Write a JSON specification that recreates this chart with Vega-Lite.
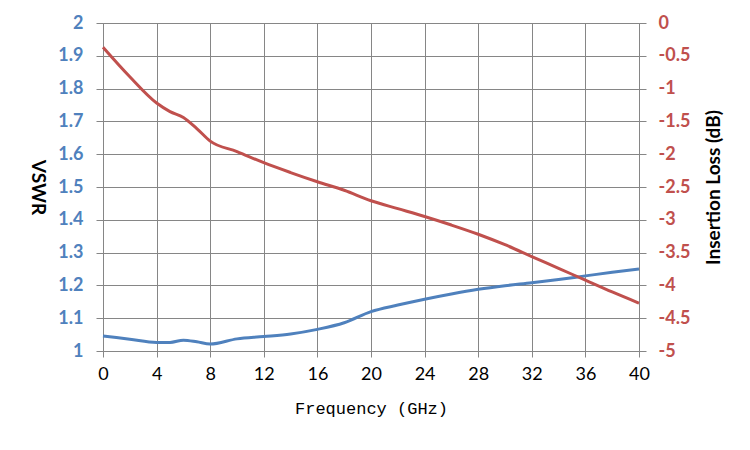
{
  "$schema": "https://vega.github.io/schema/vega-lite/v6.json",
  "autosize": "none",
  "width": 536,
  "height": 328,
  "padding": {"left": 103, "top": 23, "right": 111, "bottom": 99},
  "background": "white",
  "config": {
    "view": {"stroke": "#868686", "strokeWidth": 1}
  },
  "data": {
    "values": [
      {"freq": 0, "vswr": 1.046, "il": -0.37},
      {"freq": 2, "vswr": 1.036, "il": -0.82},
      {"freq": 4, "vswr": 1.026, "il": -1.22},
      {"freq": 5, "vswr": 1.026, "il": -1.35},
      {"freq": 6, "vswr": 1.033, "il": -1.44},
      {"freq": 7, "vswr": 1.028, "il": -1.61},
      {"freq": 8, "vswr": 1.021, "il": -1.8},
      {"freq": 10, "vswr": 1.037, "il": -1.96},
      {"freq": 12, "vswr": 1.044, "il": -2.13},
      {"freq": 14, "vswr": 1.052, "il": -2.28},
      {"freq": 16, "vswr": 1.066, "il": -2.42},
      {"freq": 18, "vswr": 1.086, "il": -2.55},
      {"freq": 20, "vswr": 1.12, "il": -2.71},
      {"freq": 22, "vswr": 1.14, "il": -2.83},
      {"freq": 24, "vswr": 1.158, "il": -2.95},
      {"freq": 26, "vswr": 1.174, "il": -3.08},
      {"freq": 28, "vswr": 1.188, "il": -3.22},
      {"freq": 30, "vswr": 1.199, "il": -3.38},
      {"freq": 32, "vswr": 1.208, "il": -3.56},
      {"freq": 34, "vswr": 1.218, "il": -3.74},
      {"freq": 36, "vswr": 1.229, "il": -3.92},
      {"freq": 38, "vswr": 1.24, "il": -4.1},
      {"freq": 40, "vswr": 1.25, "il": -4.27}
    ]
  },
  "encoding": {
    "x": {
      "field": "freq",
      "type": "quantitative",
      "scale": {"domain": [0, 40], "nice": false},
      "axis": {
        "values": [0, 4, 8, 12, 16, 20, 24, 28, 32, 36, 40],
        "title": "Frequency (GHz)",
        "titleFont": "Liberation Mono",
        "titleFontSize": 17,
        "titleFontWeight": "normal",
        "titleColor": "#000000",
        "titleBaseline": "middle",
        "titleY": 57,
        "labelFont": "Lato",
        "labelFontSize": 18,
        "labelColor": "#000000",
        "labelPadding": 8,
        "labelFlush": false,
        "tickSize": 6,
        "tickColor": "#868686",
        "domain": false,
        "grid": true,
        "gridColor": "#868686"
      }
    }
  },
  "layer": [
    {
      "mark": {"type": "line", "color": "#4F81BD", "strokeWidth": 3, "interpolate": "monotone"},
      "encoding": {
        "y": {
          "field": "vswr",
          "type": "quantitative",
          "scale": {"domain": [1, 2], "nice": false, "zero": false},
          "axis": {
            "orient": "left",
            "values": [1, 1.1, 1.2, 1.3, 1.4, 1.5, 1.6, 1.7, 1.8, 1.9, 2],
            "labelExpr": "'' + datum.value",
            "title": "VSWR",
            "titleFont": "Lato",
            "titleFontSize": 19,
            "titleFontWeight": "bold",
            "titleColor": "#000000",
            "titleAngle": 90,
            "titleAlign": "center",
            "titleBaseline": "middle",
            "titleX": -66,
            "titleY": 164,
            "labelFont": "Lato",
            "labelFontSize": 18,
            "labelFontWeight": "bold",
            "labelColor": "#4F81BD",
            "labelPadding": 13,
            "labelFlush": false,
            "tickSize": 7,
            "tickColor": "#868686",
            "domain": false,
            "grid": true,
            "gridColor": "#868686"
          }
        }
      }
    },
    {
      "mark": {"type": "line", "color": "#C0504D", "strokeWidth": 3, "interpolate": "monotone"},
      "encoding": {
        "y": {
          "field": "il",
          "type": "quantitative",
          "scale": {"domain": [-5, 0], "nice": false, "zero": false},
          "axis": {
            "orient": "right",
            "values": [-5, -4.5, -4, -3.5, -3, -2.5, -2, -1.5, -1, -0.5, 0],
            "labelExpr": "'' + datum.value",
            "title": "Insertion Loss (dB)",
            "titleFont": "Lato",
            "titleFontSize": 19,
            "titleFontWeight": "bold",
            "titleColor": "#000000",
            "titleAngle": -90,
            "titleAlign": "center",
            "titleBaseline": "middle",
            "titleX": 74,
            "titleY": 164,
            "labelFont": "Lato",
            "labelFontSize": 18,
            "labelFontWeight": "bold",
            "labelColor": "#C0504D",
            "labelPadding": 12,
            "labelFlush": false,
            "tickSize": 7,
            "tickColor": "#868686",
            "domain": false,
            "grid": false
          }
        }
      }
    }
  ],
  "resolve": {"scale": {"y": "independent"}}
}
